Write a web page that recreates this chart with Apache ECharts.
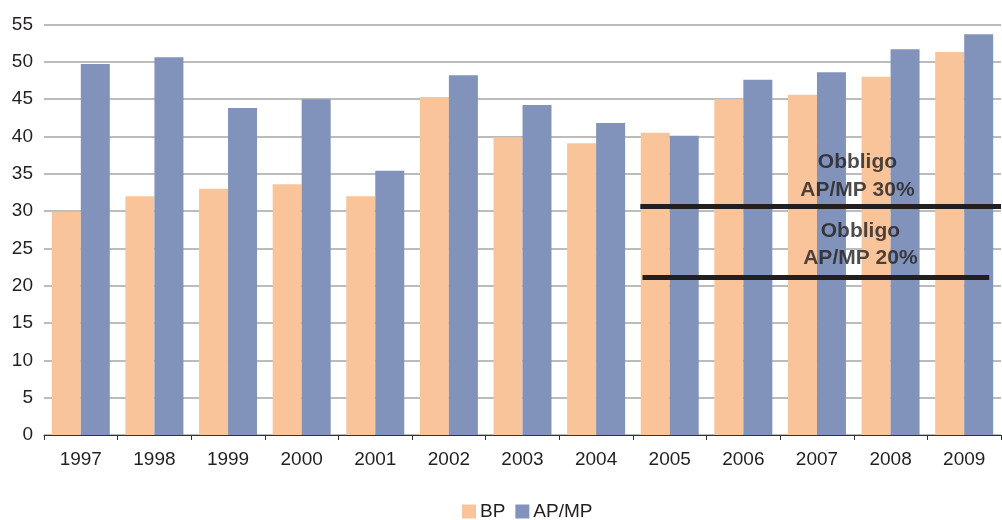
<!DOCTYPE html>
<html><head><meta charset="utf-8">
<script src="https://cdn.jsdelivr.net/npm/echarts@6/dist/echarts.min.js"></script>
<style>html,body{margin:0;padding:0;background:#fff}#c{width:1002px;height:520px}</style>
</head><body><div id="c"></div>
<script>
const categories = ['1997','1998','1999','2000','2001','2002','2003','2004','2005','2006','2007','2008','2009'];
const bp   = [29.9, 32.0, 33.0, 33.6, 32.0, 45.3, 39.9, 39.1, 40.5, 45.0, 45.6, 48.0, 51.3];
const apmp = [49.7, 50.6, 43.8, 45.0, 35.4, 48.2, 44.2, 41.8, 40.1, 47.6, 48.6, 51.7, 53.7];
const yTicks = [0, 5, 10, 15, 20, 25, 30, 35, 40, 45, 50, 55];
// threshold lines [xStart, xEnd, y] on a 0..13 category-span scale
const line30 = [[8.1, 30.6], [13.0, 30.6]];
const line20 = [[8.13, 21.1], [12.84, 21.1]];
const label30 = [[11.05, 34.7]];
const label20 = [[11.09, 25.5]];
const label30Text = 'Obbligo\nAP/MP 30%';
const label20Text = 'Obbligo\nAP/MP 20%';

const txt = '#231f20';
const font = 'Liberation Sans';
const chart = echarts.init(document.getElementById('c'));
chart.setOption({
  animation: false,
  textStyle: {fontFamily: font},
  grid: {left: 44, right: 1, top: 24.5, bottom: 85},
  legend: {
    left: 462, top: 502, padding: 0, icon: 'rect', itemWidth: 14, itemHeight: 14, itemGap: 10,
    textStyle: {fontSize: 19, color: txt, fontFamily: font, padding: [0,0,0,-1]},
    data: ['BP', 'AP/MP']
  },
  xAxis: [{
    type: 'category', data: categories,
    axisLine: {show: true, lineStyle: {color: '#333', width: 1}},
    axisTick: {show: true, length: 5, lineStyle: {color: '#333'}},
    axisLabel: {fontSize: 19, color: txt, margin: 15}
  }, {
    type: 'value', min: 0, max: 13, show: false
  }],
  yAxis: {
    type: 'value', min: 0, max: 55, interval: 5,
    axisLine: {show: false}, axisTick: {show: false},
    axisLabel: {fontSize: 19, color: txt, margin: 11,
      formatter: v => yTicks.includes(v) ? String(v) : ''},
    splitLine: {lineStyle: {color: '#a6a6a6', width: 1.5}}
  },
  series: [
    {name: 'BP', type: 'bar', data: bp, barWidth: 29, barGap: '0%',
     itemStyle: {color: '#f9c499'}},
    {name: 'AP/MP', type: 'bar', data: apmp, barWidth: 29, barGap: '0%',
     itemStyle: {color: '#8293bb'}},
    {type: 'line', xAxisIndex: 1, data: line30, symbol: 'none', clip: false,
     lineStyle: {color: txt, width: 5}, silent: true},
    {type: 'line', xAxisIndex: 1, data: line20, symbol: 'none', clip: false,
     lineStyle: {color: txt, width: 5}, silent: true},
    {type: 'scatter', xAxisIndex: 1, data: label30, symbolSize: 0, silent: true,
     label: {show: true, position: 'inside', formatter: label30Text, fontSize: 21,
       fontWeight: 'bold', color: txt, lineHeight: 28, fontFamily: font}},
    {type: 'scatter', xAxisIndex: 1, data: label20, symbolSize: 0, silent: true,
     label: {show: true, position: 'inside', formatter: label20Text, fontSize: 21,
       fontWeight: 'bold', color: txt, lineHeight: 27, fontFamily: font}}
  ]
});
</script></body></html>
